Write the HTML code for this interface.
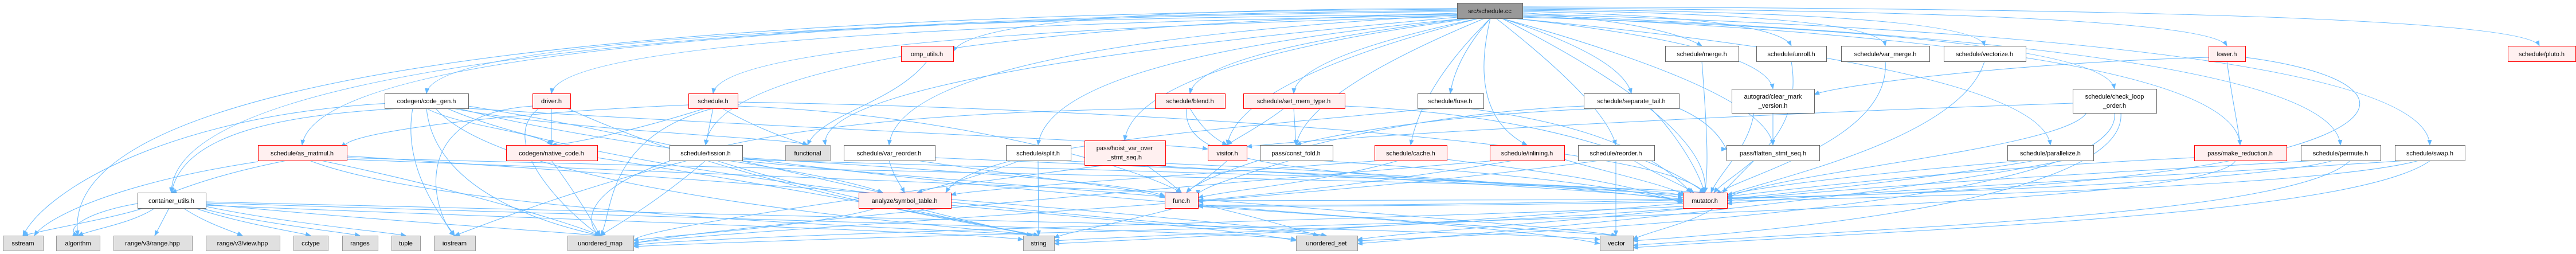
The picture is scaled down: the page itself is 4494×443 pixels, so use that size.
<!DOCTYPE html>
<html><head><meta charset="utf-8"><style>
html,body{margin:0;padding:0;background:#fff;width:4494px;height:443px;overflow:hidden}
svg{display:block}
text{font-family:"Liberation Sans",sans-serif;font-size:11px;fill:#000}
.e{fill:none;stroke:#63b8ff;stroke-width:1}
.w{fill:#fff;stroke:#666}
.r{fill:#fff0f0;stroke:#f00}
.g{fill:#e0e0e0;stroke:#999}
.k{fill:#999;stroke:#666}
</style></head><body>
<svg width="4494" height="443" viewBox="0 0 4494 443" xmlns="http://www.w3.org/2000/svg">
<defs><marker id="a" markerWidth="10" markerHeight="8" refX="9" refY="4" orient="auto" markerUnits="userSpaceOnUse"><path d="M0,0 L10,4 L0,8 z" fill="#63b8ff"/></marker></defs>
<g class="e" marker-end="url(#a)">
<!-- root edges -->
<path d="M2542,15 Q1700,15 1663,90"/>
<path d="M2656,22 Q2900,40 2969,80"/>
<path d="M2656,20 Q3100,30 3125,80"/>
<path d="M2656,18 Q3280,25 3289,80"/>
<path d="M2656,16 Q3450,22 3462,80"/>
<path d="M2656,14 Q3850,20 3885,80"/>
<path d="M2656,12 Q4400,15 4430,80"/>
<path d="M2542,25 Q760,40 744,163"/>
<path d="M2542,27 Q980,50 962,163"/>
<path d="M2542,29 Q1260,60 1244,163"/>
<path d="M2560,32 Q2090,90 2076,163"/>
<path d="M2580,32 Q2260,100 2257,163"/>
<path d="M2600,32 Q2540,100 2530,163"/>
<path d="M2620,32 Q2830,100 2846,163"/>
<path d="M2640,32 Q3080,80 3093,155"/>
<path d="M2656,30 Q3670,60 3689,155"/>
<path d="M2542,20 Q560,40 527,253"/>
<path d="M2542,23 Q1250,60 1231,253"/>
<path d="M2542,26 Q1570,80 1551,253"/>
<path d="M2560,32 Q1830,100 1811,253"/>
<path d="M2570,32 Q1980,110 1962,245"/>
<path d="M2580,32 Q2160,140 2141,253"/>
<path d="M2590,32 Q2280,160 2261,253"/>
<path d="M2600,32 Q2480,150 2461,253"/>
<path d="M2600,32 Q2560,200 2664,253"/>
<path d="M2610,32 Q2800,180 2819,253"/>
<path d="M2620,32 Q3080,160 3093,253"/>
<path d="M2640,32 Q3560,120 3577,253"/>
<path d="M2656,28 Q3900,80 3908,253"/>
<path d="M2656,26 Q4070,80 4083,253"/>
<path d="M2656,24 Q4230,70 4239,253"/>
<path d="M2542,18 Q300,40 299,336"/>
<path d="M2542,16 Q80,30 136,411"/>
<path d="M2542,30 Q1420,130 1440,253"/>
<path d="M2620,32 Q2990,220 2974,336"/>
<!-- row1 -->
<path d="M1617,107 C1560,180 1430,200 1409,253"/>
<path d="M2969,107 C2980,250 2980,300 2974,336"/>
<path d="M3125,107 C3150,250 3020,300 2990,336"/>
<path d="M3289,107 C3300,250 3020,310 2995,340"/>
<path d="M3462,107 C3420,250 3050,320 3000,345"/>
<path d="M3885,107 C3895,180 3905,220 3908,253"/>
<path d="M3853,100 C3500,110 3200,150 3165,165"/>
<path d="M3917,100 C4300,150 4200,330 3013,345"/>
<!-- row2 -->
<path d="M700,189 C500,200 320,230 299,336"/>
<path d="M680,180 C300,200 80,330 40,411"/>
<path d="M744,189 C800,220 940,230 962,253"/>
<path d="M790,189 C1000,230 1380,240 1409,253"/>
<path d="M744,189 C760,350 1000,400 1047,411"/>
<path d="M760,189 C900,350 1750,400 1812,411"/>
<path d="M780,189 C1100,330 2200,400 2314,411"/>
<path d="M800,189 C1300,320 2700,400 2820,411"/>
<path d="M720,189 C700,300 780,390 793,411"/>
<path d="M817,185 C1100,230 1500,330 1540,336"/>
<path d="M817,189 C1300,220 2050,250 2107,260"/>
<path d="M962,189 L962,253"/>
<path d="M940,189 C860,250 1000,380 1047,411"/>
<path d="M929,185 C700,200 760,380 793,411"/>
<path d="M990,189 C1300,330 1700,390 1812,411"/>
<path d="M1244,189 L1231,253"/>
<path d="M1230,189 C1100,230 1000,250 962,253"/>
<path d="M1260,189 C1330,230 1400,250 1409,253"/>
<path d="M1201,183 C800,200 580,240 605,256"/>
<path d="M1244,189 C1050,240 1070,380 1047,411"/>
<path d="M1287,178 C2000,190 2900,250 2974,336"/>
<path d="M1287,185 C1700,200 2000,300 2061,336"/>
<!-- row3 -->
<path d="M500,280 C400,300 340,320 299,336"/>
<path d="M450,282 C200,320 80,380 60,411"/>
<path d="M560,280 C800,330 1000,390 1047,411"/>
<path d="M540,280 C800,380 1700,400 1812,411"/>
<path d="M605,272 C1500,330 2200,390 2314,411"/>
<path d="M605,275 C1500,300 2800,320 2974,336"/>
<path d="M605,278 C1200,300 1900,330 2061,336"/>
<path d="M1231,280 C1150,350 1080,390 1047,411"/>
<path d="M1200,280 C1000,330 850,390 793,411"/>
<path d="M1250,280 C1400,330 1700,390 1812,411"/>
<path d="M1295,275 C1700,300 1980,320 2032,342"/>
<path d="M1295,278 C2000,300 2900,320 2936,342"/>
<path d="M1270,280 C1400,300 1500,320 1540,336"/>
<path d="M1290,280 C1800,330 2700,390 2820,411"/>
<path d="M962,280 C1000,330 1030,380 1047,411"/>
<path d="M1042,275 C1400,330 1700,390 1812,411"/>
<path d="M1551,280 C1560,310 1570,320 1578,336"/>
<path d="M1631,275 C2200,300 2800,320 2936,345"/>
<path d="M1600,280 C1800,310 2000,330 2032,345"/>
<path d="M1811,280 L1812,411"/>
<path d="M1780,280 C1700,310 1620,330 1600,336"/>
<path d="M1850,280 C2200,300 2800,330 2936,348"/>
<path d="M2000,288 C2030,310 2050,325 2061,336"/>
<path d="M1930,288 C1600,330 1100,400 1105,420"/>
<path d="M2033,285 C2400,300 2800,330 2936,350"/>
<path d="M2076,189 C2100,230 2125,245 2141,253"/>
<path d="M2070,189 C2060,300 2300,300 2936,340"/>
<path d="M2045,189 C1000,200 1000,380 1047,411"/>
<path d="M2240,189 C2200,220 2150,245 2141,253"/>
<path d="M2257,189 L2261,253"/>
<path d="M2346,185 C2700,200 2900,280 2974,336"/>
<path d="M2500,189 C2200,220 1700,250 1650,336"/>
<path d="M2560,189 C2800,220 2900,280 2950,336"/>
<path d="M2800,189 C2500,200 2300,240 2261,253"/>
<path d="M2929,189 C3000,220 3010,260 3012,260"/>
<path d="M2763,185 C2400,200 2100,300 2070,336"/>
<path d="M2880,189 C2920,230 2960,290 2974,336"/>
<path d="M3093,197 L3093,253"/>
<path d="M3060,197 C3050,260 3000,300 2985,336"/>
<path d="M3616,180 C3000,200 2300,240 2175,256"/>
<path d="M3689,197 C3700,300 3300,380 2368,420"/>
<path d="M3700,197 C3710,320 3300,390 2849,420"/>
<path d="M3640,197 C3600,260 3100,300 3013,345"/>
<path d="M2141,280 C2110,310 2080,325 2070,336"/>
<path d="M2250,280 C2150,310 2090,330 2090,340"/>
<path d="M2300,280 C2600,300 2800,320 2936,352"/>
<path d="M2440,280 C2300,320 2150,330 2090,345"/>
<path d="M2524,278 C2700,300 2850,320 2936,355"/>
<path d="M2410,280 C2000,310 1700,330 1659,340"/>
<path d="M2640,280 C2400,320 2200,340 2090,350"/>
<path d="M2729,278 C2800,300 2900,320 2940,340"/>
<path d="M2610,280 C2000,330 1200,400 1105,425"/>
<path d="M2819,280 L2819,411"/>
<path d="M2850,280 C2900,310 2940,325 2955,336"/>
<path d="M2790,280 C2500,320 2200,340 2090,352"/>
<path d="M3060,280 C3040,300 3020,320 3005,336"/>
<path d="M3530,280 C3300,300 3100,320 3013,340"/>
<path d="M3550,280 C3200,340 2600,390 1839,425"/>
<path d="M3600,280 C3300,340 2800,390 2368,425"/>
<path d="M3828,275 C3500,290 3200,320 3013,343"/>
<path d="M3900,280 C3850,380 2000,390 1105,430"/>
<path d="M4040,280 C3700,300 3300,320 3013,350"/>
<path d="M4070,280 C3900,330 2800,360 2090,358"/>
<path d="M4100,280 C4000,380 3200,400 2849,428"/>
<path d="M4200,280 C3900,300 3300,330 3013,355"/>
<path d="M4220,280 C4000,340 2800,360 2090,360"/>
<path d="M4240,280 C4100,380 3300,400 2849,432"/>
<!-- row4 -->
<path d="M250,363 C200,380 80,400 40,411"/>
<path d="M270,363 C230,390 160,400 136,411"/>
<path d="M295,363 L270,411"/>
<path d="M320,363 C360,390 410,405 423,411"/>
<path d="M340,363 C420,390 520,405 542,411"/>
<path d="M350,363 C450,390 600,405 628,411"/>
<path d="M359,360 C500,390 680,405 708,411"/>
<path d="M359,356 C600,380 980,405 1047,411"/>
<path d="M359,358 C900,380 1700,405 1785,418"/>
<path d="M359,354 C1200,380 2200,405 2261,418"/>
<path d="M359,352 C1500,380 2700,405 2791,418"/>
<path d="M240,355 C150,370 110,400 136,411"/>
<path d="M1530,363 C1400,400 1150,410 1105,420"/>
<path d="M1600,363 C1700,390 1780,405 1800,411"/>
<path d="M1659,358 C1900,380 2200,405 2261,420"/>
<path d="M2032,355 C1700,380 1200,410 1105,424"/>
<path d="M2050,363 C1950,390 1860,405 1839,415"/>
<path d="M2090,355 C2200,380 2280,405 2300,411"/>
<path d="M2090,360 C2400,380 2700,405 2791,425"/>
<path d="M2936,360 C2500,380 1200,410 1105,428"/>
<path d="M2940,363 C2600,390 2000,410 1839,420"/>
<path d="M2950,363 C2700,390 2450,405 2368,418"/>
<path d="M2990,363 C2950,390 2870,405 2849,418"/>
<path d="M2936,348 C2500,350 2200,350 2090,350"/>
</g>
<!-- nodes -->
<g>
<rect class="k" x="2542.5" y="5.5" width="114" height="27"/><text x="2599" y="23" text-anchor="middle">src/schedule.cc</text>
<rect class="r" x="1572.5" y="80.5" width="91" height="27"/><text x="1617" y="98" text-anchor="middle">omp_utils.h</text>
<rect class="w" x="2905.5" y="80.5" width="128" height="27"/><text x="2969" y="98" text-anchor="middle">schedule/merge.h</text>
<rect class="w" x="3064.5" y="80.5" width="122" height="27"/><text x="3125" y="98" text-anchor="middle">schedule/unroll.h</text>
<rect class="w" x="3212.5" y="80.5" width="154" height="27"/><text x="3289" y="98" text-anchor="middle">schedule/var_merge.h</text>
<rect class="w" x="3391.5" y="80.5" width="143" height="27"/><text x="3462" y="98" text-anchor="middle">schedule/vectorize.h</text>
<rect class="r" x="3853.5" y="80.5" width="64" height="27"/><text x="3885" y="98" text-anchor="middle">lower.h</text>
<rect class="r" x="4375.5" y="80.5" width="118" height="27"/><text x="4434" y="98" text-anchor="middle">schedule/pluto.h</text>

<rect class="w" x="671.5" y="163.5" width="146" height="26"/><text x="744" y="180" text-anchor="middle">codegen/code_gen.h</text>
<rect class="r" x="929.5" y="163.5" width="66" height="26"/><text x="962" y="180" text-anchor="middle">driver.h</text>
<rect class="r" x="1201.5" y="163.5" width="86" height="26"/><text x="1244" y="180" text-anchor="middle">schedule.h</text>
<rect class="r" x="2015.5" y="163.5" width="122" height="26"/><text x="2076" y="180" text-anchor="middle">schedule/blend.h</text>
<rect class="r" x="2169.5" y="163.5" width="177" height="26"/><text x="2257" y="180" text-anchor="middle">schedule/set_mem_type.h</text>
<rect class="w" x="2473.5" y="163.5" width="115" height="26"/><text x="2530" y="180" text-anchor="middle">schedule/fuse.h</text>
<rect class="w" x="2763.5" y="163.5" width="166" height="26"/><text x="2846" y="180" text-anchor="middle">schedule/separate_tail.h</text>
<rect class="w" x="3021.5" y="155.5" width="144" height="42"/><text x="3093" y="172" text-anchor="middle">autograd/clear_mark</text><text x="3093" y="188" text-anchor="middle">_version.h</text>
<rect class="w" x="3616.5" y="155.5" width="146" height="42"/><text x="3689" y="172" text-anchor="middle">schedule/check_loop</text><text x="3689" y="188" text-anchor="middle">_order.h</text>

<rect class="r" x="450.5" y="253.5" width="155" height="27"/><text x="527" y="271" text-anchor="middle">schedule/as_matmul.h</text>
<rect class="r" x="883.5" y="253.5" width="159" height="27"/><text x="962" y="271" text-anchor="middle">codegen/native_code.h</text>
<rect class="w" x="1168.5" y="253.5" width="127" height="27"/><text x="1231" y="271" text-anchor="middle">schedule/fission.h</text>
<rect class="g" x="1370.5" y="253.5" width="78" height="27"/><text x="1409" y="271" text-anchor="middle">functional</text>
<rect class="w" x="1472.5" y="253.5" width="159" height="27"/><text x="1551" y="271" text-anchor="middle">schedule/var_reorder.h</text>
<rect class="w" x="1755.5" y="253.5" width="113" height="27"/><text x="1811" y="271" text-anchor="middle">schedule/split.h</text>
<rect class="r" x="1892.5" y="245.5" width="141" height="43"/><text x="1962" y="262" text-anchor="middle">pass/hoist_var_over</text><text x="1962" y="278" text-anchor="middle">_stmt_seq.h</text>
<rect class="r" x="2107.5" y="253.5" width="68" height="27"/><text x="2141" y="271" text-anchor="middle">visitor.h</text>
<rect class="w" x="2198.5" y="253.5" width="127" height="27"/><text x="2261" y="271" text-anchor="middle">pass/const_fold.h</text>
<rect class="r" x="2398.5" y="253.5" width="126" height="27"/><text x="2461" y="271" text-anchor="middle">schedule/cache.h</text>
<rect class="r" x="2599.5" y="253.5" width="130" height="27"/><text x="2664" y="271" text-anchor="middle">schedule/inlining.h</text>
<rect class="w" x="2753.5" y="253.5" width="133" height="27"/><text x="2819" y="271" text-anchor="middle">schedule/reorder.h</text>
<rect class="w" x="3012.5" y="253.5" width="162" height="27"/><text x="3093" y="271" text-anchor="middle">pass/flatten_stmt_seq.h</text>
<rect class="w" x="3502.5" y="253.5" width="150" height="27"/><text x="3577" y="271" text-anchor="middle">schedule/parallelize.h</text>
<rect class="r" x="3828.5" y="253.5" width="161" height="27"/><text x="3908" y="271" text-anchor="middle">pass/make_reduction.h</text>
<rect class="w" x="4014.5" y="253.5" width="139" height="27"/><text x="4083" y="271" text-anchor="middle">schedule/permute.h</text>
<rect class="w" x="4178.5" y="253.5" width="122" height="27"/><text x="4239" y="271" text-anchor="middle">schedule/swap.h</text>

<rect class="w" x="240.5" y="336.5" width="119" height="27"/><text x="299" y="354" text-anchor="middle">container_utils.h</text>
<rect class="r" x="1498.5" y="336.5" width="161" height="27"/><text x="1578" y="354" text-anchor="middle">analyze/symbol_table.h</text>
<rect class="r" x="2032.5" y="336.5" width="58" height="27"/><text x="2061" y="354" text-anchor="middle">func.h</text>
<rect class="r" x="2936.5" y="336.5" width="77" height="27"/><text x="2974" y="354" text-anchor="middle">mutator.h</text>

<rect class="g" x="5.5" y="411.5" width="70" height="26"/><text x="40" y="428" text-anchor="middle">sstream</text>
<rect class="g" x="98.5" y="411.5" width="76" height="26"/><text x="136" y="428" text-anchor="middle">algorithm</text>
<rect class="g" x="198.5" y="411.5" width="137" height="26"/><text x="266" y="428" text-anchor="middle">range/v3/range.hpp</text>
<rect class="g" x="359.5" y="411.5" width="129" height="26"/><text x="423" y="428" text-anchor="middle">range/v3/view.hpp</text>
<rect class="g" x="512.5" y="411.5" width="60" height="26"/><text x="542" y="428" text-anchor="middle">cctype</text>
<rect class="g" x="597.5" y="411.5" width="62" height="26"/><text x="628" y="428" text-anchor="middle">ranges</text>
<rect class="g" x="683.5" y="411.5" width="50" height="26"/><text x="708" y="428" text-anchor="middle">tuple</text>
<rect class="g" x="757.5" y="411.5" width="72" height="26"/><text x="793" y="428" text-anchor="middle">iostream</text>
<rect class="g" x="990.5" y="411.5" width="115" height="26"/><text x="1047" y="428" text-anchor="middle">unordered_map</text>
<rect class="g" x="1785.5" y="411.5" width="54" height="26"/><text x="1812" y="428" text-anchor="middle">string</text>
<rect class="g" x="2261.5" y="411.5" width="107" height="26"/><text x="2314" y="428" text-anchor="middle">unordered_set</text>
<rect class="g" x="2791.5" y="411.5" width="58" height="26"/><text x="2820" y="428" text-anchor="middle">vector</text>
</g>
</svg>
</body></html>
